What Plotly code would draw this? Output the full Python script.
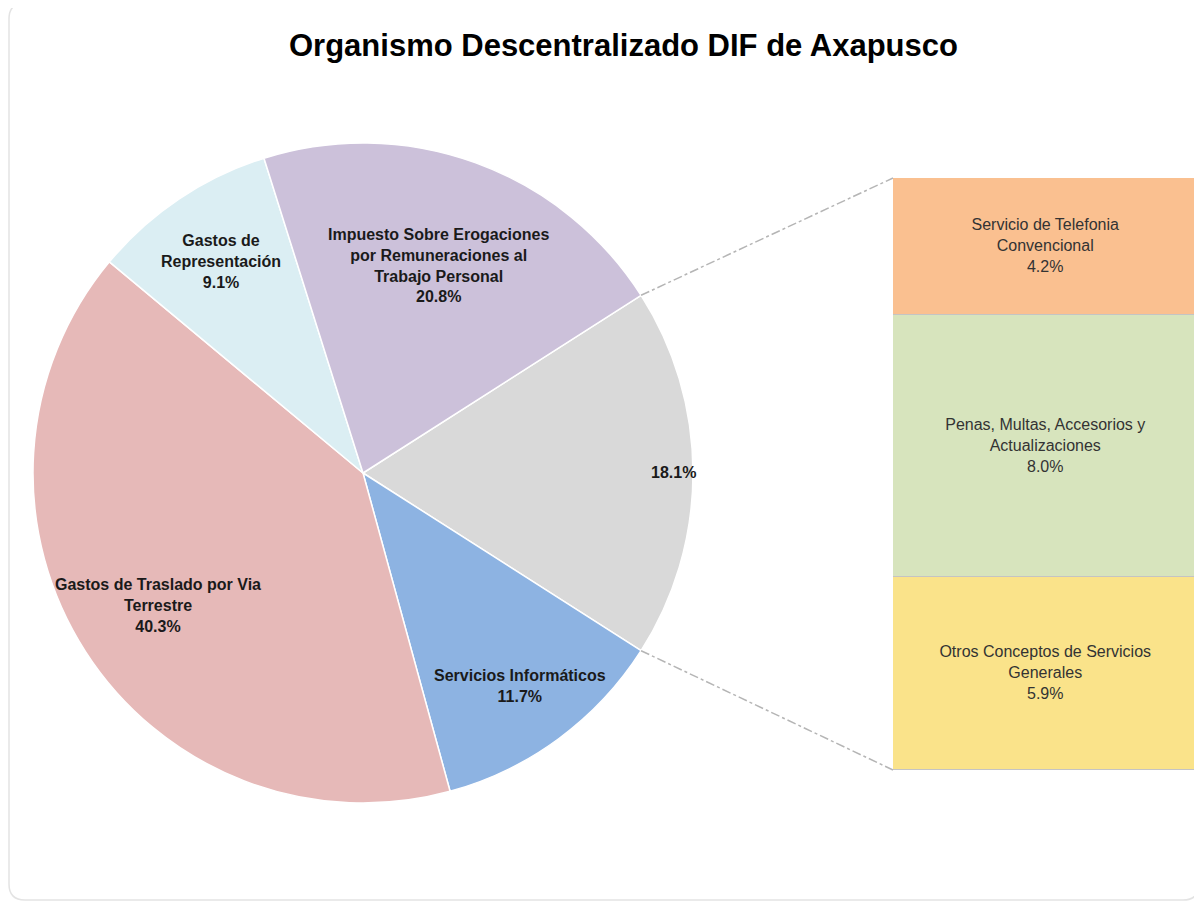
import math
import plotly.graph_objects as go

# ---------------- data ----------------
pie_names = ["Otros Servicios Generales", "Servicios Informáticos",
             "Gastos de Traslado por Via Terrestre", "Gastos de Representación",
             "Impuesto Sobre Erogaciones por Remuneraciones al Trabajo Personal"]
pie_label_text = ["", "Servicios Informáticos", "Gastos de Traslado por Via<br>Terrestre",
                  "Gastos de<br>Representación",
                  "Impuesto Sobre Erogaciones<br>por Remuneraciones al<br>Trabajo Personal"]
pie_values = [18.1, 11.7, 40.3, 9.1, 20.8]

bar_names = ["Otros Conceptos de Servicios<br>Generales",
             "Penas, Multas, Accesorios y<br>Actualizaciones",
             "Servicio de Telefonia<br>Convencional"]
bar_values = [5.9, 8.0, 4.2]

title_text = "Organismo Descentralizado DIF de Axapusco"

# ---------------- style ----------------
OFF = 8                      # page body margin of the browser
W, H = 1192, 893
pie_colors = ["#D9D9D9", "#8DB3E2", "#E6B9B8", "#DBEEF3", "#CCC1DA"]
bar_colors = ["#FAE38A", "#D7E4BD", "#FAC090"]
label_radius_frac = [0.94, 0.80, 0.74, 0.77, 0.67]
PIE_CX, PIE_CY, PIE_R = 363, 473, 330          # screen pixels
BAR_X0, BAR_X1, BAR_TOP, BAR_BOT = 893, 1199, 178, 770
font_main = "Liberation Sans, Arial, sans-serif"


def px2x(sx):
    return (sx - OFF) / W


def px2y(sy):
    return 1 - (sy - OFF) / H


pie_dom_x = [px2x(PIE_CX - PIE_R), px2x(PIE_CX + PIE_R)]
pie_dom_y = [px2y(PIE_CY + PIE_R), px2y(PIE_CY - PIE_R)]
bar_dom_x = [px2x(BAR_X0), min(1, px2x(BAR_X1))]
bar_dom_y = [px2y(BAR_BOT), px2y(BAR_TOP)]

total = sum(pie_values)
rotation = 90 - 360 * pie_values[0] / total / 2

fig = go.Figure()
fig.add_trace(go.Pie(
    values=pie_values, labels=pie_names, sort=False, direction="clockwise",
    rotation=rotation, textinfo="none", hoverinfo="label+percent",
    marker=dict(colors=pie_colors, line=dict(color="white", width=1.5)),
    domain=dict(x=pie_dom_x, y=pie_dom_y), showlegend=False,
))

for name, v, c in zip(bar_names, bar_values, bar_colors):
    fig.add_trace(go.Bar(
        x=[0], y=[v], width=1,
        marker=dict(color=c, line=dict(color="#C4C4C4", width=1.5)),
        text=[f"{name}<br>{v:.1f}%"], textposition="inside", insidetextanchor="middle",
        textangle=0, constraintext="none",
        textfont=dict(family=font_main, size=16, color="#333333"),
        showlegend=False, hoverinfo="text", xaxis="x", yaxis="y",
    ))

# pie labels placed from slice angles
annotations = []
cum = 0
for txt, v, f in zip(pie_label_text, pie_values, label_radius_frac):
    a = math.radians(rotation + 360 * (cum + v / 2) / total)
    cum += v
    sx = PIE_CX + f * PIE_R * math.sin(a)
    sy = PIE_CY - f * PIE_R * math.cos(a)
    lab = f"{txt}<br>{v:.1f}%" if txt else f"{v:.1f}%"
    lab = "<b>" + lab.replace("<br>", "</b><br><b>") + "</b>"
    annotations.append(dict(x=px2x(sx), y=px2y(sy), xref="paper", yref="paper",
                            text=lab, showarrow=False, align="center",
                            font=dict(family=font_main, size=16, color="#1A1A1A"),
                            xanchor="center", yanchor="middle"))

annotations.append(dict(x=px2x(623), y=px2y(45), xref="paper", yref="paper",
                        text=f"<b>{title_text}</b>", showarrow=False,
                        font=dict(family=font_main, size=31, color="#000000"),
                        xanchor="center", yanchor="middle"))

# connector lines from the grey slice edges to the bar corners
shapes = []
a_start = math.radians(rotation)
a_end = math.radians(rotation + 360 * pie_values[0] / total)
for a, ybar in [(a_start, BAR_TOP), (a_end, BAR_BOT)]:
    sx = PIE_CX + PIE_R * math.sin(a)
    sy = PIE_CY - PIE_R * math.cos(a)
    shapes.append(dict(type="line", xref="paper", yref="paper",
                       x0=px2x(sx), y0=px2y(sy), x1=px2x(BAR_X0), y1=px2y(ybar),
                       line=dict(color="#B5B5B5", width=1.5, dash="dashdot")))

# rounded frame
fx0, fx1, fy0, fy1, rr = 9, 1199, 3, 900, 16
pts = [("M", fx0 + rr, fy0), ("L", fx1 - rr, fy0), ("Q", fx1, fy0, fx1, fy0 + rr),
       ("L", fx1, fy1 - rr), ("Q", fx1, fy1, fx1 - rr, fy1), ("L", fx0 + rr, fy1),
       ("Q", fx0, fy1, fx0, fy1 - rr), ("L", fx0, fy0 + rr), ("Q", fx0, fy0, fx0 + rr, fy0)]
segs = []
for p in pts:
    cmd, coords = p[0], p[1:]
    cs = []
    for i in range(0, len(coords), 2):
        cs.append(f"{px2x(coords[i]):.5f},{px2y(coords[i + 1]):.5f}")
    segs.append(cmd + " " + " ".join(cs))
shapes.append(dict(type="path", xref="paper", yref="paper", path=" ".join(segs) + " Z",
                   line=dict(color="#E3E3E3", width=1.5), layer="below"))

fig.update_layout(
    width=W, height=H, margin=dict(l=0, r=0, t=0, b=0),
    paper_bgcolor="white", plot_bgcolor="rgba(0,0,0,0)",
    barmode="stack", bargap=0,
    xaxis=dict(domain=bar_dom_x, range=[-0.5, 0.5], visible=False, fixedrange=True),
    yaxis=dict(domain=bar_dom_y, range=[0, sum(bar_values)], visible=False, fixedrange=True),
    annotations=annotations, shapes=shapes,
)

fig.write_html("out.html")
